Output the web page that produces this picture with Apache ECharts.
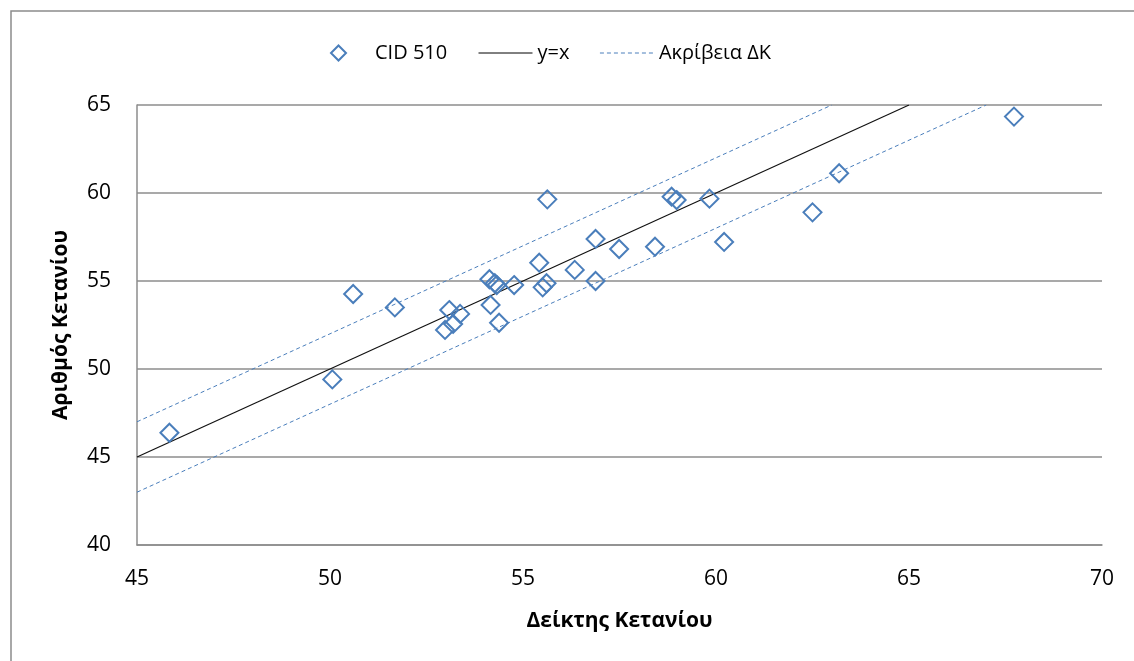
<!DOCTYPE html>
<html>
<head>
<meta charset="utf-8">
<script src="https://cdn.jsdelivr.net/npm/echarts@6/dist/echarts.min.js"></script>
<style>
html,body{margin:0;padding:0;background:#fff;}
#chart{width:1134px;height:661px;}
</style>
</head>
<body>
<div id="chart"></div>
<script>
// ---- data ----
const cidX = [45.84, 50.06, 50.60, 51.68, 52.98, 53.09, 53.19, 53.37, 54.13, 54.16, 54.27, 54.32, 54.38, 54.77, 55.42, 55.51, 55.61, 55.63, 56.34, 56.88, 56.88, 57.49, 58.42, 58.85, 58.98, 59.83, 60.21, 62.50, 63.19, 67.72];
const cidY = [46.38, 49.41, 54.26, 53.50, 52.22, 53.35, 52.56, 53.13, 55.10, 53.64, 54.87, 54.77, 52.63, 54.77, 56.04, 54.64, 54.87, 59.64, 55.63, 57.39, 55.00, 56.82, 56.95, 59.79, 59.60, 59.68, 57.22, 58.90, 61.12, 64.34];
const identityLine = [[45, 45], [65, 65]];
const upperBand = [[45, 47], [63, 65]];
const lowerBand = [[45, 43], [67, 65]];
const xTicks = [45, 50, 55, 60, 65, 70];
const yTicks = [40, 45, 50, 55, 60, 65];
const seriesNames = ['CID 510', 'y=x', 'Ακρίβεια ΔΚ'];
const xTitle = 'Δείκτης Κετανίου';
const yTitle = 'Αριθμός Κετανίου';

const FONT = '"Open Sans", "Noto Sans", sans-serif';
const GRID = '#8c8c8c';
const BLUE = '#4a7ebb';

const chart = echarts.init(document.getElementById('chart'), null, {renderer: 'canvas'});
const scatterData = cidX.map((x, i) => [x, cidY[i]]);
const legendText = {fontFamily: FONT, fontSize: 20, color: '#000'};

chart.setOption({
  animation: false,
  backgroundColor: '#ffffff',
  textStyle: {fontFamily: FONT, color: '#000'},
  graphic: [{
    type: 'rect',
    shape: {x: 11, y: 11, width: 1300, height: 800},
    style: {fill: 'none', stroke: GRID, lineWidth: 1.5},
    silent: true, z: -10
  }],
  grid: {left: 137, right: 32, top: 105, bottom: 116, containLabel: false},
  legend: [
    {
      left: 325, top: 38,
      itemWidth: 15, itemHeight: 15,
      textStyle: Object.assign({padding: [0, 0, 0, 24]}, legendText),
      data: [
        {name: seriesNames[0], icon: 'diamond', itemStyle: {color: 'transparent', borderColor: BLUE, borderWidth: 2}}
      ]
    },
    {
      left: 473, top: 38,
      itemWidth: 54, itemHeight: 14, itemGap: 30,
      textStyle: legendText,
      data: [
        {name: seriesNames[1], itemStyle: {opacity: 0}, lineStyle: {color: '#000', width: 1, opacity: 1}},
        {name: seriesNames[2], itemStyle: {opacity: 0}, lineStyle: {color: BLUE, width: 1, type: [4, 3], opacity: 1}}
      ]
    }
  ],
  xAxis: {
    type: 'value', min: xTicks[0], max: xTicks[xTicks.length - 1], interval: 5,
    name: xTitle, nameLocation: 'middle', nameGap: 66,
    nameTextStyle: {fontFamily: FONT, fontSize: 21, fontWeight: 'bold', color: '#000'},
    axisLine: {show: true, lineStyle: {color: GRID, width: 1.5}},
    axisTick: {show: false},
    splitLine: {show: false},
    axisLabel: {fontFamily: FONT, fontSize: 21, color: '#000', margin: 24}
  },
  yAxis: {
    type: 'value', min: yTicks[0], max: yTicks[yTicks.length - 1], interval: 5,
    name: yTitle, nameLocation: 'middle', nameGap: 65, nameRotate: 90,
    nameTextStyle: {fontFamily: FONT, fontSize: 21, fontWeight: 'bold', color: '#000'},
    axisLine: {show: true, lineStyle: {color: GRID, width: 1.5}},
    axisTick: {show: false},
    splitLine: {show: true, lineStyle: {color: GRID, width: 1.5}},
    axisLabel: {fontFamily: FONT, fontSize: 21, color: '#000', margin: 26}
  },
  series: [
    {
      name: seriesNames[0], type: 'scatter', data: scatterData,
      symbol: 'diamond', symbolSize: 18,
      itemStyle: {color: 'rgba(255,255,255,0)', borderColor: BLUE, borderWidth: 2, opacity: 1},
      z: 5
    },
    {
      name: seriesNames[1], type: 'line', data: identityLine,
      symbol: 'none', lineStyle: {color: '#111', width: 1.2},
      itemStyle: {color: '#000'}, z: 3
    },
    {
      name: seriesNames[2], type: 'line', data: upperBand,
      symbol: 'none', lineStyle: {color: BLUE, width: 1, type: [4, 3]},
      itemStyle: {color: BLUE}, z: 3
    },
    {
      name: seriesNames[2], type: 'line', data: lowerBand,
      symbol: 'none', lineStyle: {color: BLUE, width: 1, type: [4, 3]},
      itemStyle: {color: BLUE}, z: 3
    }
  ]
});
</script>
</body>
</html>
